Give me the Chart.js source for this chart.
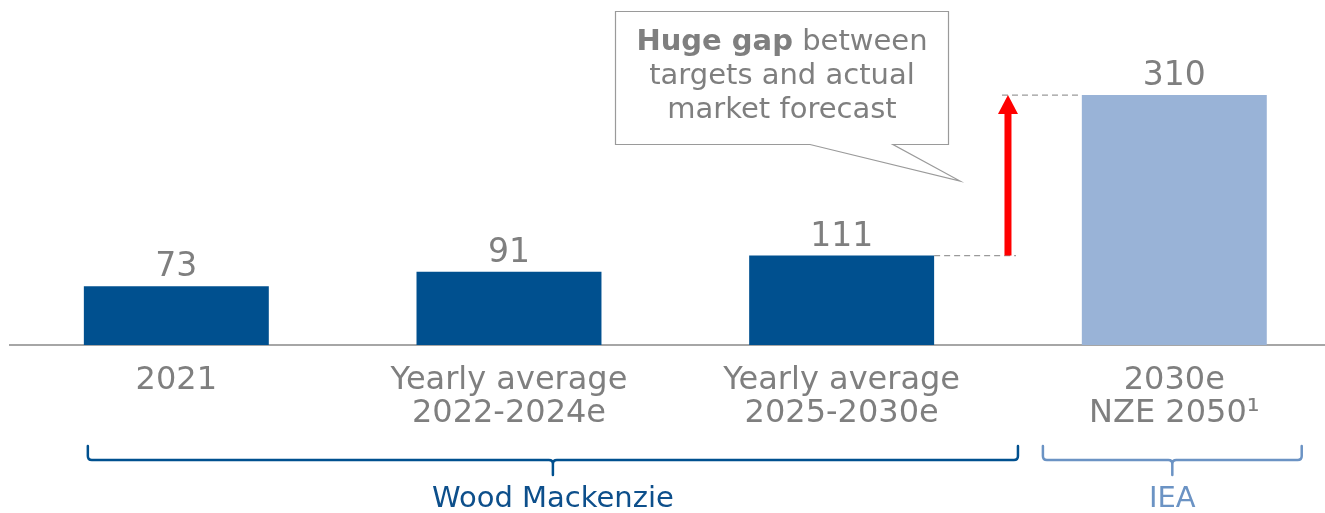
<!DOCTYPE html>
<html>
<head>
<meta charset="utf-8">
<script src="https://cdn.jsdelivr.net/npm/chart.js@4/dist/chart.umd.min.js"></script>
<style>
  html, body { margin: 0; padding: 0; background: #fff; }
  #wrap { width: 1325px; height: 513px; position: relative; }
</style>
</head>
<body>
<div id="wrap"><canvas id="chart"></canvas></div>
<script>
// data
const categories = [["2021"], ["Yearly average", "2022-2024e"], ["Yearly average", "2025-2030e"], ["2030e", "NZE 2050¹"]];
const values = [73, 91, 111, 310];
const barColors = ["#00508f", "#00508f", "#00508f", "#99b3d7"];
const groups = [
  { label: "Wood Mackenzie", from: -0.266, to: 2.53, color: "#0d4f8b", brace: "#00508f" },
  { label: "IEA", from: 2.605, to: 3.383, color: "#6b93c4", brace: "#6b93c4" }
];

const FONT = "'DejaVu Sans', Verdana, sans-serif";
const GREY = "#7f7f7f";

const overlay = {
  id: "overlay",
  afterDatasetsDraw(chart) {
    const ctx = chart.ctx;
    const meta = chart.getDatasetMeta(0);
    const x = chart.scales.x;

    // value labels
    ctx.save();
    ctx.fillStyle = GREY;
    ctx.font = "33px " + FONT;
    ctx.textAlign = "center";
    ctx.textBaseline = "alphabetic";
    meta.data.forEach((bar, i) => {
      ctx.fillText(String(values[i]), bar.x, bar.y - 10);
    });
    ctx.restore();

    // gap arrow + dashed guides
    const b3 = meta.data[2], b4 = meta.data[3];
    const r3 = b3.x + b3.width / 2, l4 = b4.x - b4.width / 2;
    const ax = (r3 + l4) / 2;
    ctx.save();
    ctx.strokeStyle = "#9a9a9a";
    ctx.lineWidth = 1.3;
    ctx.setLineDash([6, 4]);
    ctx.beginPath();
    ctx.moveTo(r3, b3.y); ctx.lineTo(ax + 8, b3.y);
    ctx.moveTo(ax - 6, b4.y); ctx.lineTo(l4, b4.y);
    ctx.stroke();
    ctx.setLineDash([]);
    ctx.fillStyle = "#ff0000";
    ctx.fillRect(ax - 3.5, b4.y + 17, 7, b3.y - b4.y - 17);
    ctx.beginPath();
    ctx.moveTo(ax, b4.y);
    ctx.lineTo(ax - 10, b4.y + 19);
    ctx.lineTo(ax + 10, b4.y + 19);
    ctx.closePath();
    ctx.fill();
    ctx.restore();

    // callout
    ctx.save();
    ctx.fillStyle = "#fff";
    ctx.strokeStyle = "#9a9a9a";
    ctx.lineWidth = 1.2;
    ctx.beginPath();
    ctx.moveTo(615.5, 11.5);
    ctx.lineTo(948.5, 11.5);
    ctx.lineTo(948.5, 144.5);
    ctx.lineTo(893, 144.5);
    ctx.lineTo(960, 181);
    ctx.lineTo(810, 144.5);
    ctx.lineTo(615.5, 144.5);
    ctx.closePath();
    ctx.fill();
    ctx.stroke();
    ctx.fillStyle = GREY;
    ctx.textBaseline = "middle";
    const cx = 782;
    ctx.font = "bold 29px " + FONT;
    const boldTxt = "Huge gap";
    const wB = ctx.measureText(boldTxt).width;
    ctx.font = "29px " + FONT;
    const restTxt = " between";
    const wR = ctx.measureText(restTxt).width;
    const start = cx - (wB + wR) / 2;
    ctx.textAlign = "left";
    ctx.font = "bold 29px " + FONT;
    ctx.fillText(boldTxt, start, 42);
    ctx.font = "29px " + FONT;
    ctx.fillText(restTxt, start + wB, 42);
    ctx.textAlign = "center";
    ctx.fillText("targets and actual", cx, 76);
    ctx.fillText("market forecast", cx, 110);
    ctx.restore();

    // group braces
    ctx.save();
    ctx.lineWidth = 2.5;
    ctx.lineCap = "round";
    const yTop = 446, yLine = 460, yTip = 475, r = 4;
    groups.forEach(g => {
      const x1 = x.getPixelForValue(g.from), x2 = x.getPixelForValue(g.to);
      const c = (x1 + x2) / 2;
      ctx.strokeStyle = g.brace;
      ctx.beginPath();
      ctx.moveTo(x1, yTop);
      ctx.lineTo(x1, yLine - r);
      ctx.quadraticCurveTo(x1, yLine, x1 + r, yLine);
      ctx.lineTo(c - r, yLine);
      ctx.quadraticCurveTo(c, yLine, c, yLine + r);
      ctx.lineTo(c, yTip);
      ctx.moveTo(c, yLine + r);
      ctx.quadraticCurveTo(c, yLine, c + r, yLine);
      ctx.lineTo(x2 - r, yLine);
      ctx.quadraticCurveTo(x2, yLine, x2, yLine - r);
      ctx.lineTo(x2, yTop);
      ctx.stroke();
      ctx.fillStyle = g.color;
      ctx.font = "29px " + FONT;
      ctx.textAlign = "center";
      ctx.textBaseline = "middle";
      ctx.fillText(g.label, c, 499);
    });
    ctx.restore();
  }
};

new Chart(document.getElementById("chart"), {
  type: "bar",
  data: {
    datasets: [{
      data: values.map((v, i) => ({ x: i, y: v })),
      backgroundColor: barColors,
      borderWidth: 0,
      barPercentage: 0.556,
      categoryPercentage: 1
    }]
  },
  options: {
    responsive: true,
    maintainAspectRatio: false,
    animation: false,
    layout: { padding: { left: 10, right: 0, top: 0, bottom: 0 } },
    plugins: { legend: { display: false }, tooltip: { enabled: false } },
    scales: {
      x: {
        type: "linear",
        min: -0.5,
        max: 3.453,
        offset: false,
        grid: { display: false, drawTicks: false },
        border: { display: true, color: "#a6a6a6", width: 2 },
        afterBuildTicks: s => { s.ticks = categories.map((c, i) => ({ value: i })); },
        afterFit: s => { s.height = 168; },
        ticks: {
          autoSkip: false,
          maxRotation: 0,
          padding: 19,
          color: GREY,
          font: { family: FONT, size: 32, lineHeight: 1.04 },
          callback: (v) => categories[v]
        }
      },
      y: {
        display: false,
        min: 0,
        max: 428
      }
    }
  },
  plugins: [overlay]
});
</script>
</body>
</html>
